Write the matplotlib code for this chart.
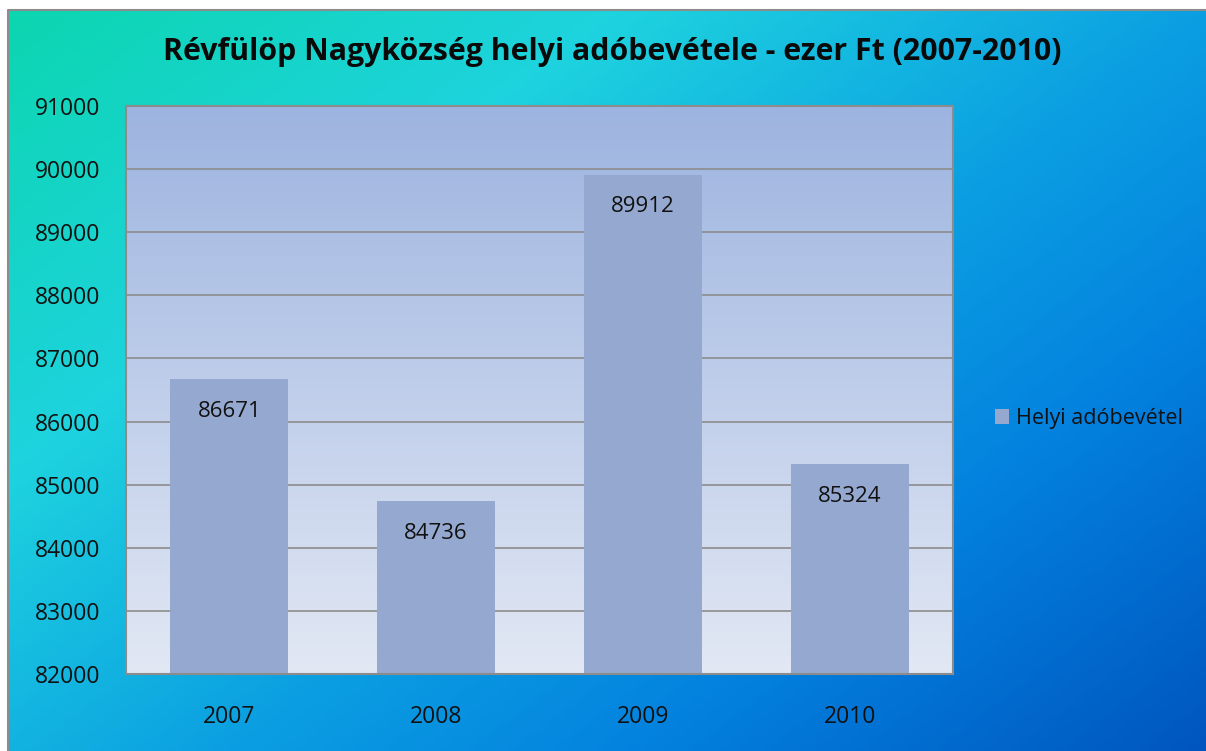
import numpy as np
import matplotlib.pyplot as plt
from matplotlib.colors import LinearSegmentedColormap, to_rgb

# adatok
years = ["2007", "2008", "2009", "2010"]
values = [86671, 84736, 89912, 85324]
series_name = "Helyi adóbevétel"
title = "Révfülöp Nagyközség helyi adóbevétele - ezer Ft (2007-2010)"
yticks = [82000, 83000, 84000, 85000, 86000, 87000, 88000, 89000, 90000, 91000]

plt.rcParams['font.family'] = ['Open Sans', 'DejaVu Sans']

W, H = 1206, 751
fig = plt.figure(figsize=(W / 100, H / 100), dpi=100)
fig.patch.set_facecolor("white")

# háttér színátmenet (bal felső türkiz -> jobb alsó kék)
bg_ax = fig.add_axes([8 / W, 0, 1 - 8 / W, (H - 10) / H])
bg_ax.set_axis_off()
bg_cmap = LinearSegmentedColormap.from_list(
    "bg", [(0.0, "#0CD6B0"), (0.28, "#1ED3DE"), (0.55, "#0B9FE2"),
           (0.75, "#0380DE"), (1.0, "#0056BE")])
gx, gy = np.meshgrid(np.linspace(0, 1, 300), np.linspace(0, 1, 200))
grad = 0.55 * gx + 0.45 * gy
bg_ax.imshow(grad, cmap=bg_cmap, aspect="auto", extent=[0, 1, 1, 0], vmin=0, vmax=1)
bg_ax.plot([0, 0, 1], [0, 1, 1], transform=bg_ax.transAxes, color="#8C8C8C",
           lw=1.5, clip_on=False)

# diagram terület
ax = fig.add_axes([126 / W, (H - 674) / H, (953 - 126) / W, (674 - 106) / H])
top_c = np.array(to_rgb("#9DB4E0"))
bot_c = np.array(to_rgb("#E2E8F4"))
t = np.linspace(0, 1, 256)[:, None]
plot_grad = (top_c * (1 - t) + bot_c * t)[:, None, :]
ax.imshow(plot_grad, aspect="auto", extent=[-0.5, 3.5, 82000, 91000],
          origin="upper", zorder=0)

x = np.arange(len(years))
bars = ax.bar(x, values, width=0.57, color="#95A9D0", zorder=2)
for xi, v in zip(x, values):
    ax.annotate(str(v), xy=(xi, v), xytext=(0, -23), textcoords="offset points",
                ha="center", va="center", fontsize=16, color="#111111", zorder=3)

ax.set_xlim(-0.5, 3.5)
ax.set_ylim(82000, 91000)
ax.set_yticks(yticks)
ax.set_yticklabels([str(v) for v in yticks])
ax.set_xticks(x)
ax.set_xticklabels(years)
ax.tick_params(axis="both", length=0, labelsize=16.5, colors="#111111")
ax.tick_params(axis="y", pad=18.5)
ax.tick_params(axis="x", pad=22)
ax.yaxis.grid(True, color="#8C8C8C", lw=1.2, zorder=1)
ax.set_axisbelow(True)
for s in ax.spines.values():
    s.set_color("#8C8C8C")
    s.set_linewidth(1.5)

fig.text(612 / W, 1 - 52 / H, title, ha="center", va="center",
         fontsize=21.8, fontweight="bold", color="#0A0A0A")

# jelmagyarázat
leg = ax.legend([bars], [series_name], loc="center left",
                bbox_to_anchor=(1.04, 0.45), frameon=False,
                fontsize=15.5, handlelength=0.65, handleheight=0.65,
                handletextpad=0.35, borderaxespad=0)
for txt in leg.get_texts():
    txt.set_color("#111111")

fig.savefig("out.png", dpi=100)
